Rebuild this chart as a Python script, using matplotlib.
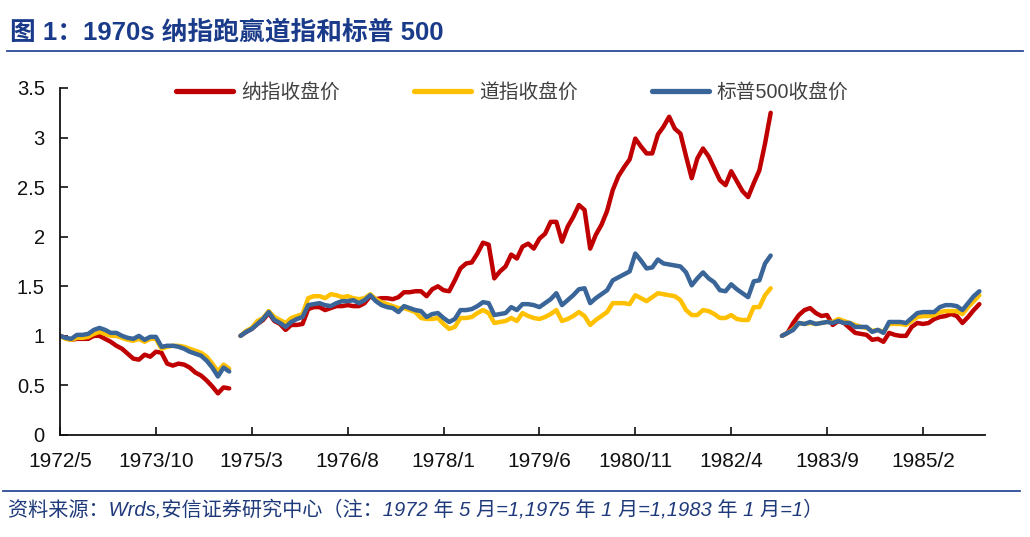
import numpy as np
import matplotlib.pyplot as plt
from matplotlib.lines import Line2D

plt.rcParams['font.family'] = ['Liberation Sans', 'Noto Sans CJK SC', 'DejaVu Sans']

# Monthly category axis: 1972/5 .. 1986/1
months = []
yr, mo = 1972, 5
for _ in range(165):
    months.append(f"{yr}/{mo}")
    mo += 1
    if mo > 12:
        yr, mo = yr + 1, 1

series_names = ["纳指收盘价", "道指收盘价", "标普500收盘价"]

# Segment 1: 1972/5 - 1974/11 (1972/5 = 1)
nasdaq_1972 = [1.00, 0.98, 0.96, 0.97, 0.97, 0.97, 1.00, 1.00, 0.97, 0.94, 0.90,
               0.87, 0.82, 0.77, 0.76, 0.81, 0.79, 0.84, 0.83, 0.72, 0.70, 0.72,
               0.71, 0.68, 0.63, 0.60, 0.55, 0.49, 0.42, 0.48, 0.47]
dow_1972 = [1.00, 0.97, 0.96, 0.98, 0.98, 0.99, 1.02, 1.04, 1.02, 1.00, 1.00,
            0.98, 0.96, 0.95, 0.97, 0.94, 0.97, 0.97, 0.87, 0.89, 0.90, 0.90,
            0.89, 0.87, 0.85, 0.83, 0.79, 0.72, 0.64, 0.71, 0.67]
sp_1972 = [1.00, 0.98, 0.97, 1.01, 1.01, 1.02, 1.06, 1.08, 1.06, 1.03, 1.03,
           1.00, 0.98, 0.97, 1.00, 0.96, 0.99, 0.99, 0.89, 0.90, 0.90, 0.89,
           0.87, 0.84, 0.82, 0.80, 0.75, 0.68, 0.59, 0.68, 0.64]

# Segment 2: 1975/1 - 1982/11 (1975/1 = 1)
nasdaq_1975 = [1.00, 1.04, 1.07, 1.12, 1.16, 1.23, 1.15, 1.12, 1.06, 1.11, 1.11,
               1.12, 1.27, 1.29, 1.29, 1.26, 1.28, 1.30, 1.30, 1.31, 1.30, 1.30,
               1.33, 1.40, 1.37, 1.38, 1.38, 1.37, 1.39, 1.44, 1.44, 1.45, 1.45,
               1.40, 1.47, 1.50, 1.46, 1.45, 1.56, 1.68, 1.73, 1.74, 1.83, 1.94,
               1.92, 1.58, 1.65, 1.70, 1.82, 1.78, 1.90, 1.93, 1.88, 1.98, 2.03,
               2.15, 2.15, 1.95, 2.10, 2.20, 2.32, 2.27, 1.88, 2.02, 2.12, 2.26,
               2.47, 2.61, 2.70, 2.78, 2.99, 2.91, 2.84, 2.84, 3.03, 3.11, 3.21,
               3.09, 3.04, 2.81, 2.59, 2.79, 2.89, 2.81, 2.69, 2.57, 2.52, 2.66,
               2.56, 2.46, 2.40, 2.54, 2.67, 2.94, 3.25]
dow_1975 = [1.00, 1.05, 1.08, 1.15, 1.18, 1.25, 1.19, 1.16, 1.13, 1.18, 1.20,
            1.22, 1.38, 1.40, 1.40, 1.38, 1.42, 1.41, 1.39, 1.40, 1.38, 1.37,
            1.38, 1.42, 1.37, 1.34, 1.32, 1.30, 1.28, 1.28, 1.26, 1.24, 1.18,
            1.17, 1.17, 1.18, 1.12, 1.07, 1.09, 1.18, 1.18, 1.19, 1.23, 1.26,
            1.23, 1.13, 1.14, 1.15, 1.18, 1.15, 1.23, 1.20, 1.18, 1.17, 1.19,
            1.22, 1.26, 1.15, 1.17, 1.20, 1.24, 1.20, 1.11, 1.16, 1.20, 1.24,
            1.33, 1.33, 1.33, 1.32, 1.41, 1.38, 1.35, 1.39, 1.43, 1.42, 1.41,
            1.40, 1.36, 1.26, 1.21, 1.21, 1.26, 1.25, 1.22, 1.18, 1.18, 1.21,
            1.17, 1.16, 1.16, 1.29, 1.29, 1.41, 1.48]
sp_1975 = [1.00, 1.04, 1.07, 1.12, 1.17, 1.24, 1.16, 1.13, 1.09, 1.14, 1.17,
           1.19, 1.31, 1.32, 1.33, 1.31, 1.30, 1.33, 1.35, 1.35, 1.36, 1.33,
           1.36, 1.41, 1.35, 1.31, 1.29, 1.28, 1.24, 1.30, 1.28, 1.26, 1.25,
           1.19, 1.22, 1.23, 1.18, 1.14, 1.17, 1.26, 1.26, 1.27, 1.30, 1.34,
           1.33, 1.21, 1.22, 1.23, 1.29, 1.26, 1.32, 1.32, 1.31, 1.29, 1.33,
           1.37, 1.43, 1.31, 1.36, 1.41, 1.47, 1.48, 1.33, 1.38, 1.42, 1.46,
           1.56, 1.59, 1.62, 1.65, 1.83, 1.76, 1.68, 1.69, 1.77, 1.73, 1.72,
           1.71, 1.70, 1.64, 1.51, 1.58, 1.64, 1.58, 1.54, 1.46, 1.45, 1.52,
           1.47, 1.43, 1.39, 1.55, 1.56, 1.73, 1.81]

# Segment 3: 1983/1 - 1985/12 (1983/1 = 1)
nasdaq_1983 = [1.00, 1.03, 1.13, 1.21, 1.26, 1.28, 1.23, 1.20, 1.21, 1.11, 1.15,
               1.13, 1.08, 1.03, 1.02, 1.01, 0.96, 0.97, 0.94, 1.03, 1.01, 1.00,
               1.00, 1.09, 1.13, 1.12, 1.13, 1.17, 1.19, 1.20, 1.22, 1.20, 1.13,
               1.19, 1.26, 1.32]
dow_1983 = [1.00, 1.03, 1.07, 1.13, 1.12, 1.13, 1.12, 1.13, 1.14, 1.14, 1.17,
            1.15, 1.13, 1.11, 1.09, 1.08, 1.05, 1.06, 1.04, 1.12, 1.12, 1.12,
            1.11, 1.15, 1.19, 1.20, 1.20, 1.21, 1.24, 1.25, 1.25, 1.25, 1.22,
            1.29, 1.35, 1.41]
sp_1983 = [1.00, 1.03, 1.06, 1.13, 1.12, 1.14, 1.12, 1.13, 1.14, 1.13, 1.15,
           1.13, 1.13, 1.09, 1.09, 1.09, 1.04, 1.06, 1.03, 1.14, 1.14, 1.14,
           1.13, 1.18, 1.23, 1.24, 1.24, 1.24, 1.29, 1.31, 1.31, 1.30, 1.26,
           1.33, 1.40, 1.45]


def join_segments(a, b, c):
    # one empty month between the segments, as in the source sheet
    vals = a + [np.nan] + b + [np.nan] + c
    vals += [np.nan] * (len(months) - len(vals))
    return np.array(vals)


nasdaq = join_segments(nasdaq_1972, nasdaq_1975, nasdaq_1983)
dow = join_segments(dow_1972, dow_1975, dow_1983)
sp500 = join_segments(sp_1972, sp_1975, sp_1983)

colors = ["#C00000", "#FFC000", "#3A6598"]

fig = plt.figure(figsize=(10.3, 5.37), dpi=100)
ax = fig.add_axes([60 / 1030, 1 - 435 / 537, 925 / 1030, 347 / 537])

x = np.arange(len(months))
for vals, name, col in zip([nasdaq, dow, sp500], series_names, colors):
    ax.plot(x, vals, color=col, lw=3.2, label=name,
            solid_capstyle='round', solid_joinstyle='round')

ax.set_xlim(0, len(months) - 1)
ax.set_ylim(0, 3.5)
ax.set_yticks(np.arange(0, 3.51, 0.5))
ax.set_yticklabels(["0", "0.5", "1", "1.5", "2", "2.5", "3", "3.5"])
tick_pos = x[::17]
ax.set_xticks(tick_pos)
ax.set_xticklabels([months[i] for i in tick_pos])

for s in ["top", "right"]:
    ax.spines[s].set_visible(False)
for s in ["left", "bottom"]:
    ax.spines[s].set_linewidth(1.3)
    ax.spines[s].set_color("#111111")

ax.tick_params(axis='y', direction='in', length=6, width=1.2, pad=11,
               labelsize=14.5, colors="#111111")
ax.tick_params(axis='x', direction='in', length=6, width=1.2, pad=12,
               labelsize=15, colors="#111111")

leg = ax.legend(loc='center', bbox_to_anchor=(0.489, 0.988), ncol=3,
                frameon=False, fontsize=14.2, handlelength=2.9,
                handletextpad=0.4, columnspacing=3.75)
for t in leg.get_texts():
    t.set_color("#404040")
for h in leg.get_lines():
    h.set_linewidth(3.8)

# Title and source line
fig.text(10 / 1030, 1 - 32 / 537, "图 1：1970s 纳指跑赢道指和标普 500",
         fontsize=18.5, fontweight='bold', color="#1A3A8A", va='center', ha='left')
fig.add_artist(Line2D([7 / 1030, 1023 / 1030], [1 - 51 / 537] * 2,
                      color="#2D4A9A", lw=1.3))
fig.add_artist(Line2D([3 / 1030, 1020 / 1030], [1 - 491 / 537] * 2,
                      color="#2D4A9A", lw=1.3))
fig.text(8 / 1030, 1 - 510 / 537,
         "资料来源：Wrds,安信证券研究中心（注：1972 年 5 月=1,1975 年 1 月=1,1983 年 1 月=1）",
         fontsize=14.5, style='italic', color="#1F3A7A", va='center', ha='left')

fig.savefig("out.png", dpi=100)
